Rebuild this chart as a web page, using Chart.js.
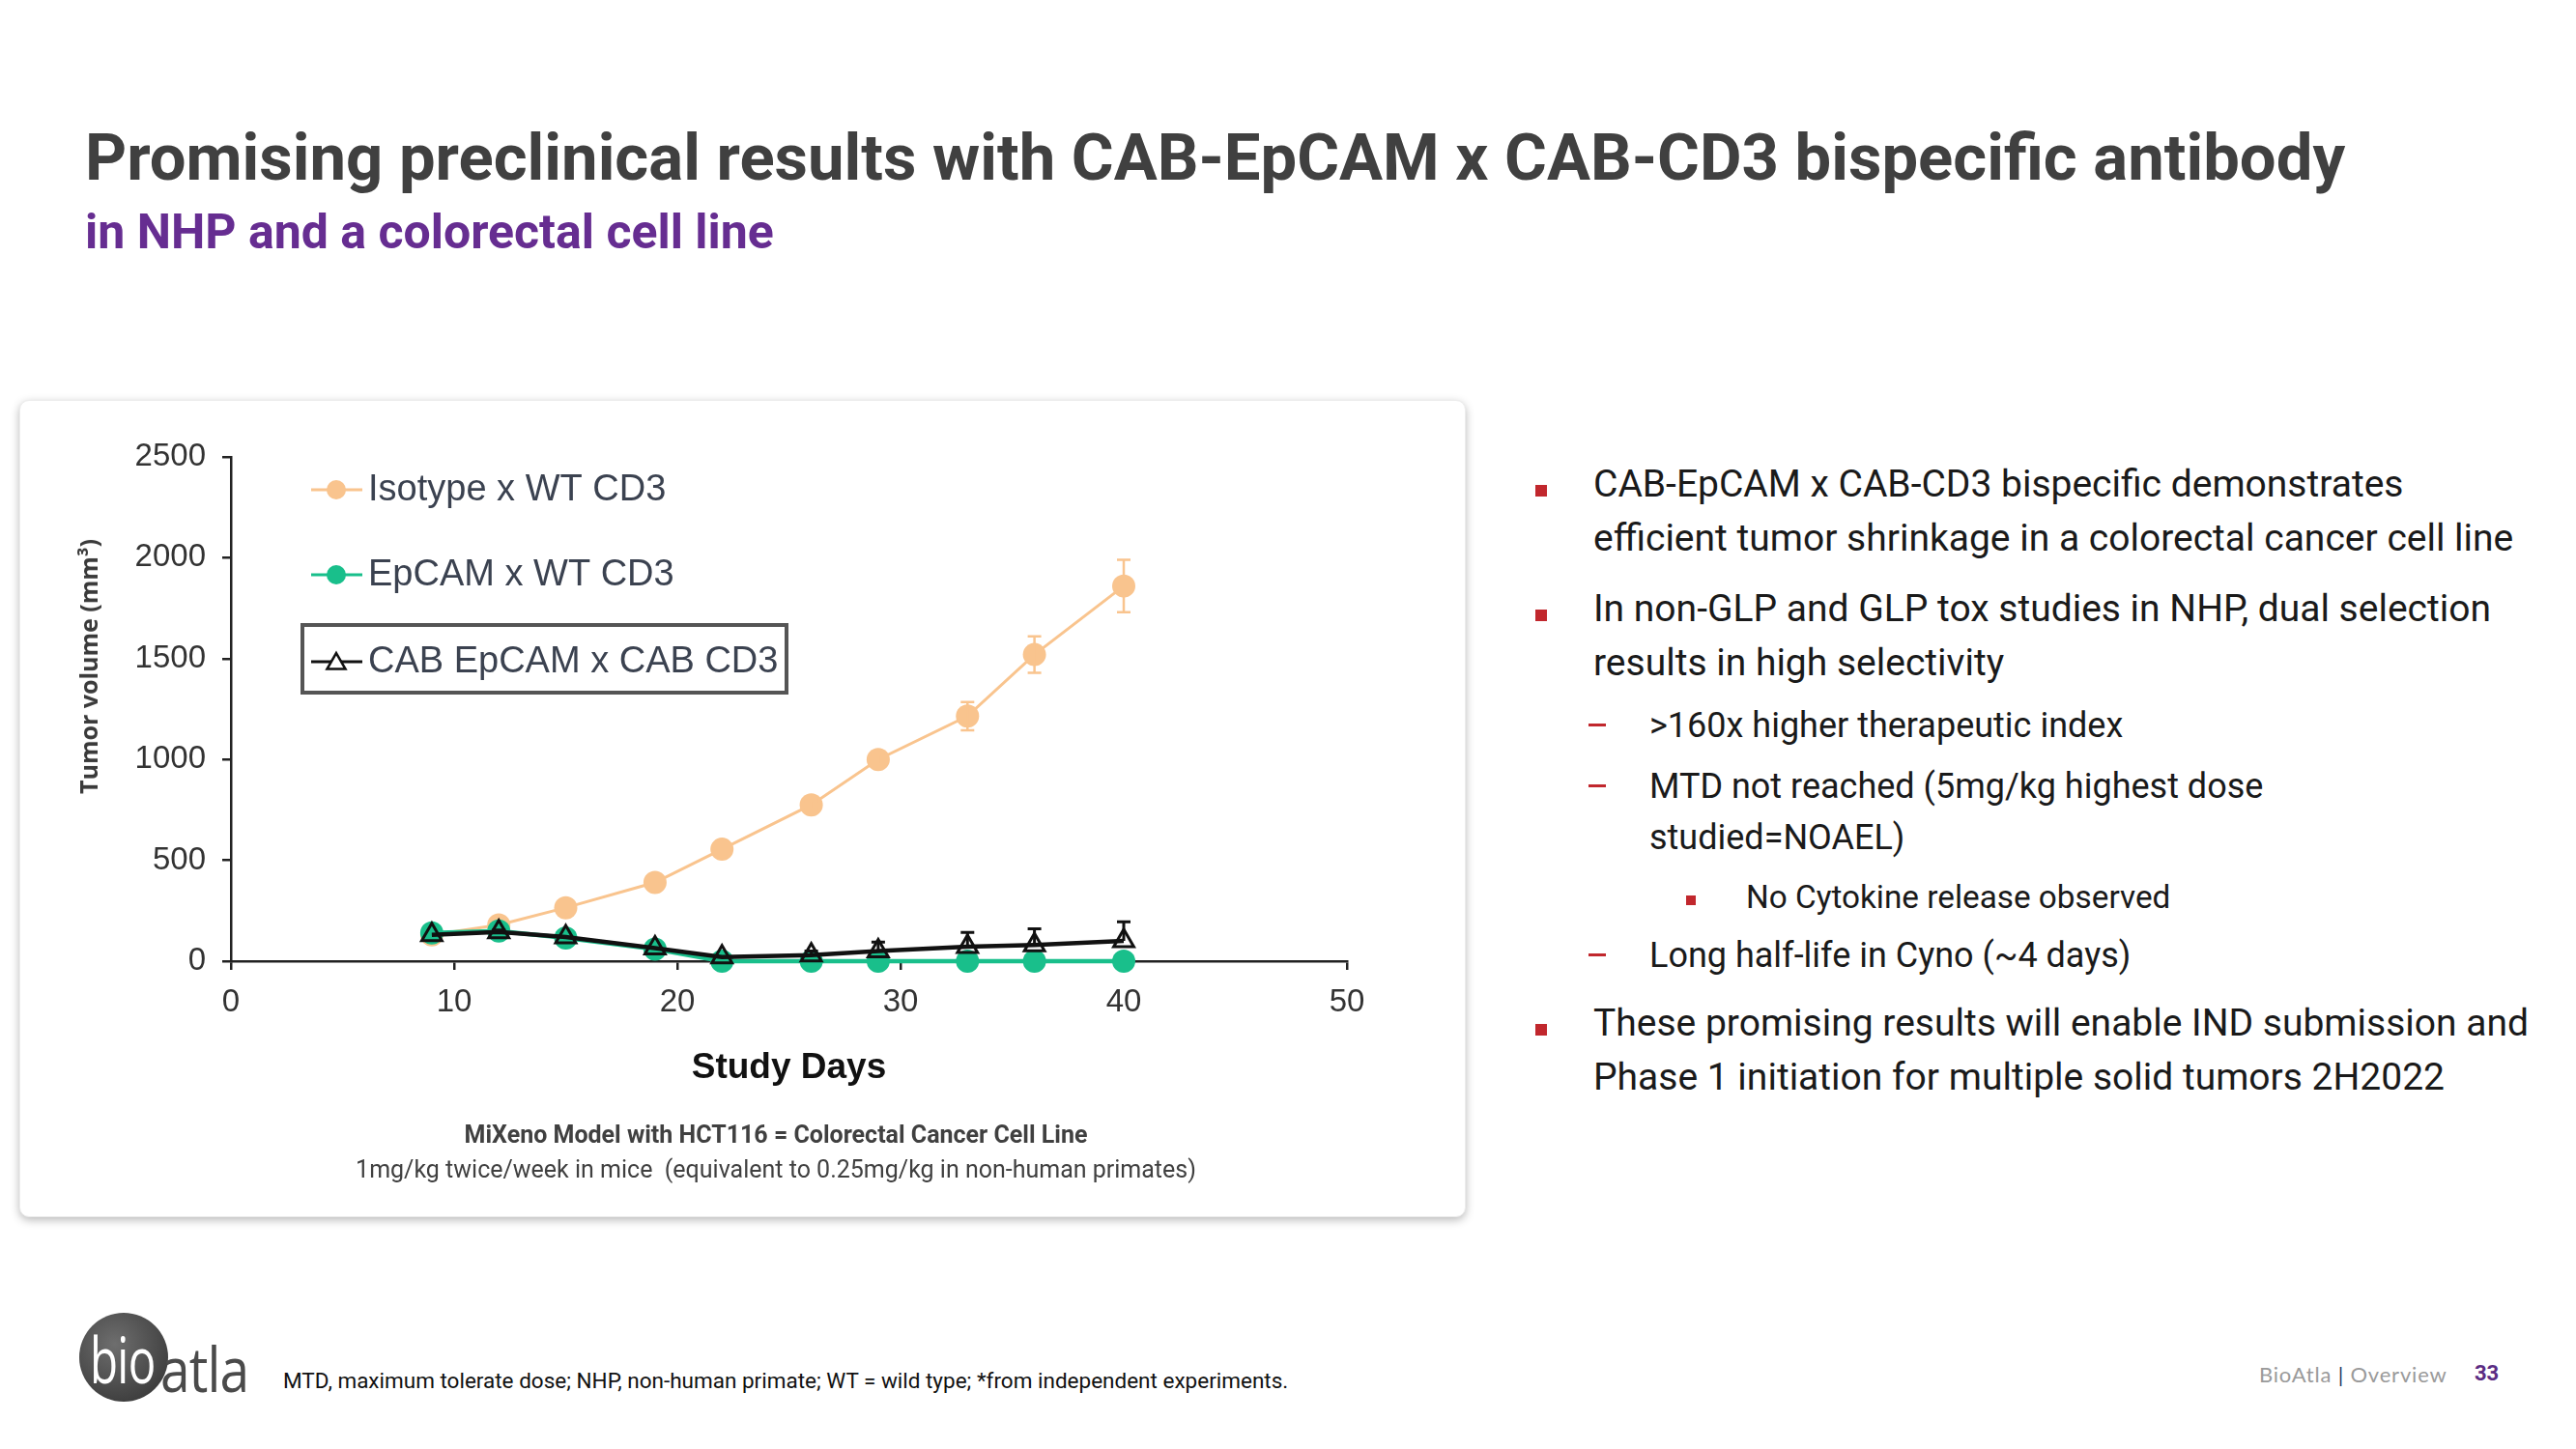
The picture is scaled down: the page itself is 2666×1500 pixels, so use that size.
<!DOCTYPE html>
<html><head><meta charset="utf-8">
<script src="https://cdn.jsdelivr.net/npm/chart.js@4.4.1/dist/chart.umd.min.js"></script>
<style>
html,body{margin:0;padding:0;background:#fff;}
body{width:2666px;height:1500px;position:relative;overflow:hidden;font-family:Roboto,"Liberation Sans",sans-serif;}
.abs{position:absolute;white-space:nowrap;}
#title{left:88px;top:123px;font-size:67px;line-height:80px;font-weight:700;color:#404040;}
#subtitle{left:88px;top:210px;font-size:50px;line-height:60px;font-weight:700;color:#662d91;}
#card{position:absolute;left:20px;top:414px;width:1497px;height:846px;background:#fff;border-radius:10px;box-shadow:0 3px 10px rgba(0,0,0,0.28);border:1px solid #ececec;box-sizing:border-box;}
#chartCanvas{position:absolute;left:20px;top:414px;}
#ytitle{left:91px;top:690px;font-family:"Open Sans",sans-serif;font-weight:700;font-size:25px;line-height:30px;color:#3a3a3a;transform:translate(-50%,-50%) rotate(-90deg);}
.cap{left:203px;width:1200px;text-align:center;font-size:25px;line-height:30px;color:#404040;}
.b{position:absolute;white-space:nowrap;color:#1a1a1a;}
.b1{font-size:39px;line-height:56px;left:1649px;}
.b2{font-size:36px;line-height:53px;left:1707px;}
.b3{font-size:33.3px;line-height:50px;left:1807px;}
.sq{position:absolute;background:#c1272d;}
.b1 .sq{left:-60px;top:29px;width:12px;height:12px;}
.b2 .sq{left:-63px;top:24px;width:18px;height:3px;}
.b3 .sq{left:-62px;top:23px;width:10px;height:10px;}
#footnote{left:293px;top:1414px;font-size:22.5px;line-height:30px;color:#111;}
#logoCircle{position:absolute;left:82px;top:1359px;width:92px;height:92px;border-radius:50%;background:radial-gradient(circle at 40% 35%,#6e6e6e,#3f3f3f 75%);}
#bio{left:93px;top:1366px;font-family:"Open Sans",sans-serif;font-size:66px;line-height:80px;color:#fff;transform:scaleX(0.72);transform-origin:left center;letter-spacing:-1px;}
#atla{left:166px;top:1377px;font-family:"Open Sans",sans-serif;font-size:64px;line-height:80px;color:#4a4a4a;transform:scaleX(0.86);transform-origin:left center;letter-spacing:-1px;}
#pgfoot{left:2338px;top:1410px;font-family:Lato,sans-serif;font-size:22px;line-height:26px;color:#9a9a9a;letter-spacing:0.8px;}
#pgfoot .bar{color:#1f3a5f;}
#pgnum{left:2561px;top:1409px;font-size:22px;line-height:26px;font-weight:700;color:#5b2c83;}
</style></head><body>

<div id="title" class="abs">Promising preclinical results with CAB-EpCAM x CAB-CD3 bispecific antibody</div>
<div id="subtitle" class="abs">in NHP and a colorectal cell line</div>

<div id="card"></div>
<canvas id="chartCanvas" width="1497" height="846"></canvas>
<div id="ytitle" class="abs">Tumor volume (mm³)</div>
<div class="abs cap" style="top:1160px;font-weight:700;">MiXeno Model with HCT116 = Colorectal Cancer Cell Line</div>
<div class="abs cap" style="top:1196px;">1mg/kg twice/week in mice&nbsp; (equivalent to 0.25mg/kg in non-human primates)</div>

<div class="b b1" style="top:473px;"><span class="sq"></span>CAB-EpCAM x CAB-CD3 bispecific demonstrates<br>efficient tumor shrinkage in a colorectal cancer cell line</div>
<div class="b b1" style="top:602px;"><span class="sq"></span>In non-GLP and GLP tox studies in NHP, dual selection<br>results in high selectivity</div>
<div class="b b2" style="top:725px;"><span class="sq"></span>&gt;160x higher therapeutic index</div>
<div class="b b2" style="top:788px;"><span class="sq"></span>MTD not reached (5mg/kg highest dose<br>studied=NOAEL)</div>
<div class="b b3" style="top:904px;"><span class="sq"></span>No Cytokine release observed</div>
<div class="b b2" style="top:963px;"><span class="sq"></span>Long half-life in Cyno (~4 days)</div>
<div class="b b1" style="top:1031px;"><span class="sq"></span>These promising results will enable IND submission and<br>Phase 1 initiation for multiple solid tumors 2H2022</div>

<div id="logoCircle"></div>
<div id="bio" class="abs">bio</div>
<div id="atla" class="abs">atla</div>
<div id="footnote" class="abs">MTD, maximum tolerate dose; NHP, non-human primate; WT = wild type; *from independent experiments.</div>
<div id="pgfoot" class="abs">BioAtla <span class="bar">|</span> Overview</div>
<div id="pgnum" class="abs">33</div>

<script>
// ---- data ----
const studyDays = [9, 12, 15, 19, 22, 26, 29, 33, 36, 40];
const isotypeWT = [130, 180, 265, 390, 555, 775, 1000, 1215, 1520, 1860];
const isotypeErr = [0, 0, 0, 0, 0, 20, 25, 70, 90, 130];
const epcamWT = [140, 150, 115, 60, 0, 0, 0, 0, 0, 0];
const cabCab = [130, 145, 120, 65, 20, 30, 50, 72, 80, 100];
const cabErr = [0, 10, 0, 0, 0, 20, 45, 70, 80, 95];
const seriesLabels = ['Isotype x WT CD3', 'EpCAM x WT CD3', 'CAB EpCAM x CAB CD3'];
const xTicks = [0, 10, 20, 30, 40, 50];
const yTicks = [0, 500, 1000, 1500, 2000, 2500];
const xTitle = 'Study Days';

const ORANGE = '#f9c48e', GREEN = '#19bf8b', BLACK = '#111111';
const pts = arr => arr.map((v, i) => ({x: studyDays[i], y: v}));

const errorBarPlugin = {
  id: 'errorBars',
  afterDatasetsDraw(chart) {
    const ctx = chart.ctx, ys = chart.scales.y;
    chart.data.datasets.forEach((ds, di) => {
      if (!ds.errors) return;
      const meta = chart.getDatasetMeta(di);
      ctx.save();
      ctx.strokeStyle = ds.errColor; ctx.lineWidth = ds.errWidth;
      meta.data.forEach((el, j) => {
        const e = ds.errors[j]; if (!e) return;
        const v = ds.data[j].y;
        const yTop = ys.getPixelForValue(v + e);
        const yBot = ds.errBoth ? ys.getPixelForValue(v - e) : el.y;
        ctx.beginPath();
        ctx.moveTo(el.x, yBot); ctx.lineTo(el.x, yTop);
        ctx.moveTo(el.x - 7, yTop); ctx.lineTo(el.x + 7, yTop);
        if (ds.errBoth) { ctx.moveTo(el.x - 7, yBot); ctx.lineTo(el.x + 7, yBot); }
        ctx.stroke();
      });
      ctx.restore();
    });
  }
};

const legendPlugin = {
  id: 'insetLegend',
  afterDraw(chart) {
    const ctx = chart.ctx;
    const order = [2, 1, 0];
    const rows = [93, 181, 271];
    ctx.save();
    order.forEach((di, r) => {
      const ds = chart.data.datasets[di];
      const y = rows[r];
      ctx.strokeStyle = ds.borderColor; ctx.lineWidth = 3;
      ctx.beginPath(); ctx.moveTo(302, y); ctx.lineTo(355, y); ctx.stroke();
      if (ds.pointStyle === 'triangle') {
        const rr = 11;
        ctx.beginPath();
        for (let k = 0; k < 3; k++) {
          const a = k * 2 * Math.PI / 3;
          const px = 328 + Math.sin(a) * rr, py = y + 2 - Math.cos(a) * rr;
          k ? ctx.lineTo(px, py) : ctx.moveTo(px, py);
        }
        ctx.closePath();
        ctx.fillStyle = '#fff'; ctx.fill();
        ctx.lineWidth = 2.5; ctx.strokeStyle = BLACK; ctx.stroke();
      } else {
        ctx.beginPath(); ctx.arc(328, y, 10, 0, Math.PI * 2);
        ctx.fillStyle = ds.backgroundColor; ctx.fill();
      }
      ctx.fillStyle = '#3b4250';
      ctx.font = '38px "Liberation Sans", Arial, sans-serif';
      ctx.textBaseline = 'middle'; ctx.textAlign = 'left';
      ctx.fillText(ds.label, 361, y + 1);
    });
    ctx.strokeStyle = '#555'; ctx.lineWidth = 4;
    ctx.strokeRect(293, 233, 501, 70);
    ctx.restore();
  }
};

const tickFont = {family: '"Liberation Sans", Arial, sans-serif', size: 33};
const plain = v => String(v);

new Chart(document.getElementById('chartCanvas'), {
  type: 'line',
  data: {
    datasets: [
      {label: seriesLabels[2], data: pts(cabCab), order: 0, borderColor: BLACK, borderWidth: 4.5,
       pointStyle: 'triangle', pointRadius: 12, pointBorderWidth: 3, pointBorderColor: BLACK,
       pointBackgroundColor: 'rgba(0,0,0,0)', backgroundColor: 'rgba(0,0,0,0)', clip: false,
       errors: cabErr, errColor: BLACK, errWidth: 3, errBoth: false},
      {label: seriesLabels[1], data: pts(epcamWT), order: 1, borderColor: GREEN, backgroundColor: GREEN,
       borderWidth: 4.5, pointStyle: 'circle', pointRadius: 12, pointBorderWidth: 0, clip: false},
      {label: seriesLabels[0], data: pts(isotypeWT), order: 2, borderColor: ORANGE, backgroundColor: ORANGE,
       borderWidth: 3, pointStyle: 'circle', pointRadius: 12, pointBorderWidth: 0, clip: false,
       errors: isotypeErr, errColor: ORANGE, errWidth: 2.5, errBoth: true}
    ]
  },
  options: {
    responsive: false, animation: false, devicePixelRatio: 1,
    layout: {padding: {top: 59, right: 123, left: 0, bottom: 0}},
    plugins: {legend: {display: false}, tooltip: {enabled: false}},
    elements: {line: {tension: 0}},
    scales: {
      x: {
        type: 'linear', min: xTicks[0], max: xTicks[xTicks.length - 1],
        afterBuildTicks: s => { s.ticks = xTicks.map(v => ({value: v})); },
        ticks: {font: tickFont, color: '#333', padding: 14, callback: plain},
        grid: {drawOnChartArea: false, drawTicks: true, tickLength: 9, color: '#222', lineWidth: 2.5},
        border: {display: true, color: '#222', width: 2.5},
        title: {display: true, text: xTitle, color: '#111',
                font: {family: '"Liberation Sans", Arial, sans-serif', size: 37, weight: 'bold'},
                padding: {top: 0, bottom: 132}},
        afterFit: s => { s.height = 265; }
      },
      y: {
        type: 'linear', min: yTicks[0], max: yTicks[yTicks.length - 1],
        afterBuildTicks: s => { s.ticks = yTicks.map(v => ({value: v})); },
        ticks: {font: tickFont, color: '#333', padding: 17, callback: plain},
        grid: {drawOnChartArea: false, drawTicks: true, tickLength: 9, color: '#222', lineWidth: 2.5},
        border: {display: true, color: '#222', width: 2.5},
        afterFit: s => { s.width = 219; }
      }
    }
  },
  plugins: [errorBarPlugin, legendPlugin]
});
</script>
</body></html>
